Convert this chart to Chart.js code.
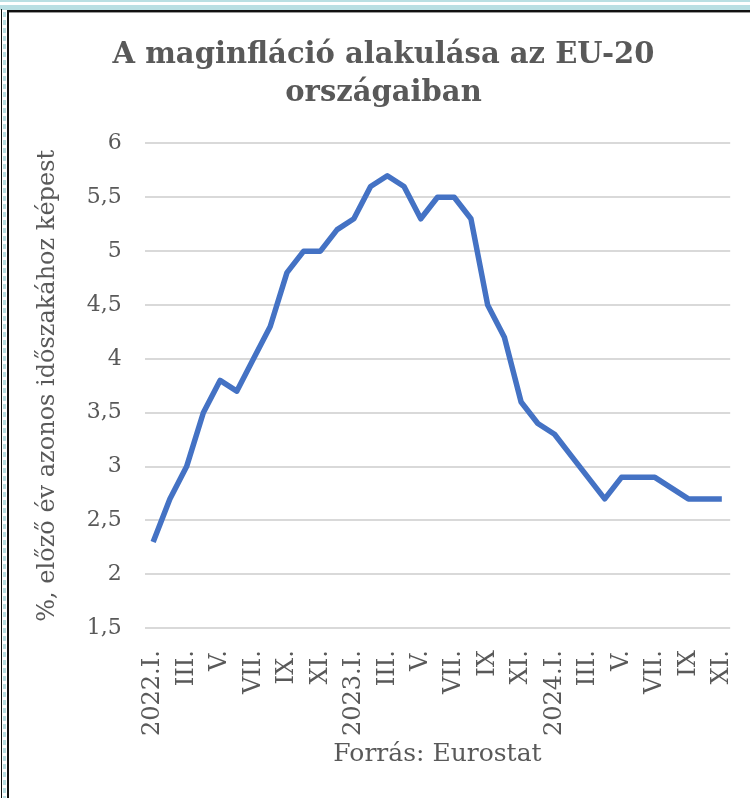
<!DOCTYPE html>
<html>
<head>
<meta charset="utf-8">
<script src="https://cdn.jsdelivr.net/npm/chart.js@4/dist/chart.umd.min.js"></script>
<style>
    body { margin: 0; width: 750px; height: 798px; overflow: hidden; position: relative; background: #fff; }
    .band { position: absolute; background: #b9dfe3; }
    .line { position: absolute; background: #111; }
    .dash { position: absolute; background: repeating-linear-gradient(to bottom, #b9dfe3 0 5px, #fff 5px 8px); }
    #wrap { position: absolute; left: 9px; top: 13px; width: 756px; height: 785px; }
</style>
</head>
<body>
<div class="band" style="left:0;top:0;width:750px;height:2px"></div>
<div class="band" style="left:0;top:5px;width:750px;height:5px"></div>
<div class="line" style="left:7px;top:10px;width:743px;height:2px"></div>
<div class="line" style="left:7px;top:12px;width:743px;height:1px;background:#999"></div>
<div class="line" style="left:1px;top:9px;width:1px;height:789px"></div>
<div class="dash" style="left:3px;top:12px;width:3px;height:786px"></div>
<div class="line" style="left:7px;top:10px;width:2px;height:788px"></div>
<div id="wrap"><canvas id="chart" width="756" height="785"></canvas></div>
<script>
// Maginfláció, EU-20, előző év azonos időszakához képest (%)
const months = [
    '2022.I.', 'II.', 'III.', 'IV.', 'V.', 'VI.', 'VII.', 'VIII.', 'IX.', 'X.', 'XI.', 'XII.',
    '2023.I.', 'II.', 'III.', 'IV.', 'V.', 'VI.', 'VII.', 'VIII.', 'IX', 'X.', 'XI.', 'XII.',
    '2024.I.', 'II.', 'III.', 'IV.', 'V.', 'VI.', 'VII.', 'VIII.', 'IX', 'X.', 'XI.'
];
const coreInflation = [
    2.3, 2.7, 3.0, 3.5, 3.8, 3.7, 4.0, 4.3, 4.8, 5.0, 5.0, 5.2,
    5.3, 5.6, 5.7, 5.6, 5.3, 5.5, 5.5, 5.3, 4.5, 4.2, 3.6, 3.4,
    3.3, 3.1, 2.9, 2.7, 2.9, 2.9, 2.9, 2.8, 2.7, 2.7, 2.7
];
const yMin = 1.5;
const yMax = 6;
const yStep = 0.5;

const textColor = '#595959';
const serif = "'DejaVu Serif', serif";

new Chart(document.getElementById('chart'), {
    type: 'line',
    data: {
        labels: months,
        datasets: [{
            data: coreInflation,
            borderColor: '#4472c4',
            borderWidth: 5.5,
            pointRadius: 0,
            tension: 0,
            borderJoinStyle: 'round'
        }]
    },
    options: {
        responsive: false,
        animation: false,
        layout: {
            autoPadding: false,
            padding: { left: 20, right: 27, top: 10, bottom: 25 }
        },
        plugins: {
            legend: { display: false },
            tooltip: { enabled: false },
            title: {
                display: true,
                text: ['A maginfláció alakulása az EU-20', 'országaiban'],
                color: textColor,
                font: { family: serif, size: 29, weight: 'bold', lineHeight: 1.3 },
                padding: { top: 14, bottom: 31 }
            }
        },
        scales: {
            x: {
                offset: true,
                grid: { display: false },
                border: { display: false },
                ticks: {
                    autoSkip: false,
                    minRotation: 90,
                    maxRotation: 90,
                    padding: 14,
                    color: textColor,
                    font: { family: serif, size: 24 },
                    callback: function (value, index) {
                        return index % 2 === 0 ? months[index] : '';
                    }
                },
                title: {
                    display: true,
                    text: 'Forrás: Eurostat',
                    color: textColor,
                    font: { family: serif, size: 25 },
                    padding: { top: -11, bottom: 4 }
                }
            },
            y: {
                min: yMin,
                max: yMax,
                border: { display: false },
                grid: { color: '#d9d9d9', lineWidth: 2, drawTicks: false },
                ticks: {
                    stepSize: yStep,
                    padding: 23,
                    color: textColor,
                    font: { family: serif, size: 22 },
                    callback: value => value.toString().replace('.', ',')
                },
                title: {
                    display: true,
                    text: '%, előző év azonos időszakához képest',
                    color: textColor,
                    font: { family: serif, size: 24 },
                    padding: { top: 4, bottom: 2 }
                }
            }
        }
    }
});
</script>
</body>
</html>
